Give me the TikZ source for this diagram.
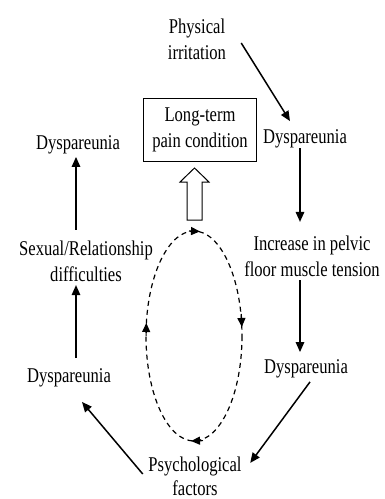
\documentclass[tikz,border=0pt]{standalone}
\usepackage{fontspec}
\setmainfont{Liberation Serif}[FakeStretch=0.79]
\usetikzlibrary{arrows.meta}

\begin{document}
\begin{tikzpicture}[x=1pt,y=-1pt,
  lbl/.style={inner sep=2pt,align=center,font=\fontsize{21}{26}\selectfont},
  arr/.style={line width=1.5pt,-{Triangle[length=10pt,width=8.5pt]}},
  loophead/.style={line width=1.2pt,-{Triangle[length=9pt,width=8pt]}}]
\useasboundingbox (0,0) rectangle (384,499);
% labels round the cycle
\node[lbl] (phys) at (197,39) {Physical\\irritation};
\node[lbl] (dysA) at (305,139) {Dyspareunia};
\node[lbl] (incr) at (312,256) {Increase in pelvic\\floor muscle tension};
\node[lbl] (dysB) at (306,369) {Dyspareunia};
\node[lbl,font=\fontsize{21}{24}\selectfont] (psych) at (195,476) {Psychological\\factors};
\node[lbl] (dysC) at (69,378) {Dyspareunia};
\node[lbl] (sexual) at (86,261) {Sexual/Relationship\\difficulties};
\node[lbl] (dysD) at (78,145) {Dyspareunia};
\node[lbl,draw,line width=1.1pt,minimum width=113pt,minimum height=63pt] (pain) at (200,130) {Long-term\\pain condition};
% arrows
\draw[arr] ([xshift=13pt,yshift=-4pt]phys.east) -- ([xshift=-15pt,yshift=6.5pt]dysA.north);
\draw[arr] ([xshift=-5pt,yshift=2pt]dysA.south) -- ([xshift=-12pt,yshift=11.5pt]incr.north);
\draw[arr] ([xshift=-12pt,yshift=-1.5pt]incr.south) -- ([xshift=-6pt,yshift=5.5pt]dysB.north);
\draw[arr] ([xshift=4pt,yshift=-1.5pt]dysB.south) -- ([xshift=6.5pt,yshift=-8.5pt]psych.north east);
\draw[arr] ([xshift=-3.5pt,yshift=2pt]psych.west) -- ([xshift=13pt,yshift=-12.5pt]dysC.south);
\draw[arr] ([xshift=7pt,yshift=8.5pt]dysC.north) -- ([xshift=-10pt,yshift=-1.5pt]sexual.south);
\draw[arr] ([xshift=-10pt,yshift=8.5pt]sexual.north) -- ([xshift=-2pt,yshift=-0.5pt]dysD.south);
% hollow arrow
\draw[line width=1pt] (187,220) -- (187,182) -- (180,182) -- (194.5,168) -- (209,182) -- (202,182) -- (202,220) -- cycle;
% dashed loop
\draw[line width=1.2pt,dash pattern=on 5pt off 4pt] (194,336) ellipse [x radius=48, y radius=105];
\draw[loophead] (189,231) -- (200,231.4);
\draw[loophead] (241.3,314) -- (241.8,327);
\draw[loophead] (203,440.6) -- (191,441);
\draw[loophead] (146.1,336) -- (146.3,323);
\end{tikzpicture}
\end{document}
